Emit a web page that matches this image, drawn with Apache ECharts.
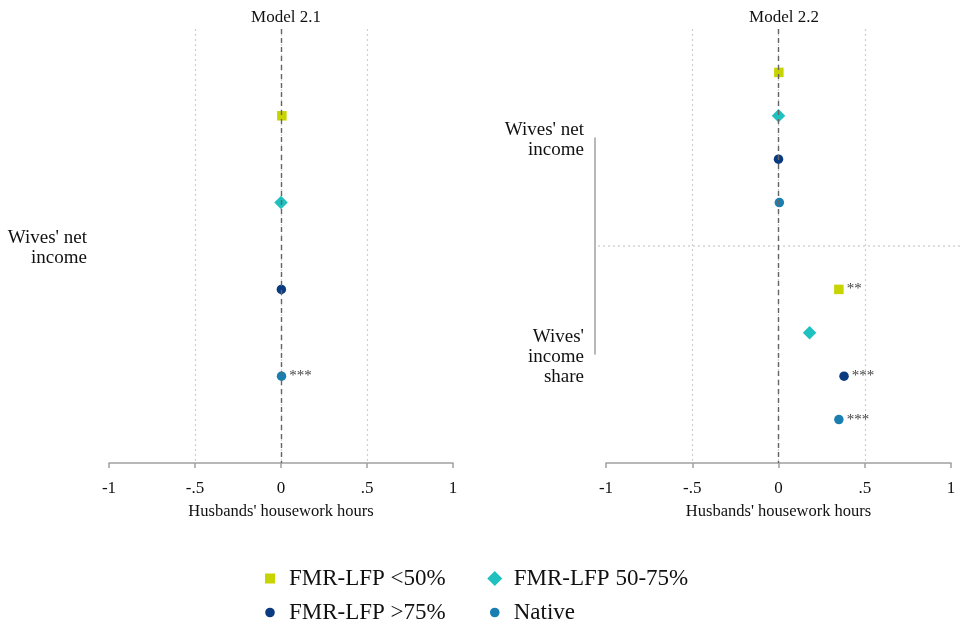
<!DOCTYPE html>
<html><head><meta charset="utf-8">
<script src="https://cdn.jsdelivr.net/npm/echarts@6/dist/echarts.min.js"></script>
<style>html,body{margin:0;padding:0;background:#fff}#c{width:960px;height:624px}</style>
</head><body><div id="c"></div>
<script>
const groups = ['FMR-LFP <50%', 'FMR-LFP 50-75%', 'FMR-LFP >75%', 'Native'];
const m21NetIncome = [0.005, 0, 0.002, 0.003];
const m21NetIncomeStars = ['', '', '', '***'];
const m22NetIncome = [0.002, 0, 0, 0.005];
const m22NetIncomeStars = ['', '', '', ''];
const m22IncomeShare = [0.35, 0.18, 0.38, 0.35];
const m22IncomeShareStars = ['**', '', '***', '***'];
const xTicks = [-1, -0.5, 0, 0.5, 1];
const xTickLabels = ['-1', '-.5', '0', '.5', '1'];
const panelTitles = ['Model 2.1', 'Model 2.2'];
const xAxisName = "Husbands' housework hours";
const rowLabelsM21 = ["Wives' net\nincome"];
const rowLabelsM22 = ["Wives' net\nincome", "Wives'\nincome\nshare"];

const FONT = "'Liberation Serif', 'Times New Roman', serif";
const colors = ['#c8d400', '#1fc0c0', '#0a3a80', '#1a7fb0'];
const symbols = ['rect', 'diamond', 'circle', 'circle'];
const sizes = [9.5, 13.5, 9.5, 9.5];
const legendIcons = [
  'path://M0,0M15,15M2.5,2.5h10v10h-10z',
  'diamond',
  'path://M0,0M15,15M2.7,7.5a4.8,4.8 0 1,0 9.6,0a4.8,4.8 0 1,0 -9.6,0z',
  'path://M0,0M15,15M2.7,7.5a4.8,4.8 0 1,0 9.6,0a4.8,4.8 0 1,0 -9.6,0z'
];

const chart = echarts.init(document.getElementById('c'));

function xAxisCfg(gi) {
  return {
    type: 'value', gridIndex: gi, min: -1, max: 1, interval: 0.5,
    name: xAxisName, nameLocation: 'middle', nameGap: 40,
    nameTextStyle: { fontFamily: FONT, fontSize: 16.5, color: '#111' },
    axisLine: { show: true, onZero: false, lineStyle: { color: '#a0a0a0', width: 1.5 } },
    axisTick: { show: true, length: 5, inside: false, lineStyle: { color: '#a0a0a0', width: 1.5 } },
    axisLabel: {
      margin: 17, fontFamily: FONT, fontSize: 17, color: '#111',
      formatter: v => { const k = xTicks.findIndex(t => Math.abs(t - v) < 1e-9); return k >= 0 ? xTickLabels[k] : ''; }
    },
    splitLine: { show: true, showMinLine: false, showMaxLine: false, lineStyle: { color: '#cfcfcf', type: [2, 3], width: 1.2 } }
  };
}
function yAxisCfg(gi, maxV) {
  return {
    type: 'value', gridIndex: gi, min: 0, max: maxV, inverse: true,
    axisLine: { show: false }, axisTick: { show: false }, splitLine: { show: false },
    axisLabel: { show: false }
  };
}

const zeroLine = {
  silent: true, symbol: 'none', label: { show: false },
  lineStyle: { color: '#666', type: [5, 4], width: 1.4 },
  data: [{ xAxis: 0 }]
};
const starLabel = {
  show: true, position: 'right', distance: 3, fontFamily: FONT, fontSize: 15, color: '#444',
  formatter: p => p.value[2]
};

const series = [];
groups.forEach((g, i) => {
  series.push({
    name: g, type: 'scatter', xAxisIndex: 0, yAxisIndex: 0,
    symbol: symbols[i], symbolSize: sizes[i], itemStyle: { color: colors[i], opacity: 1 },
    data: [[m21NetIncome[i], i + 1, m21NetIncomeStars[i]]],
    label: starLabel,
    markLine: i === 0 ? zeroLine : undefined, z: 3
  });
  series.push({
    name: g, type: 'scatter', xAxisIndex: 1, yAxisIndex: 1,
    symbol: symbols[i], symbolSize: sizes[i], itemStyle: { color: colors[i], opacity: 1 },
    data: [[m22NetIncome[i], i + 1, m22NetIncomeStars[i]], [m22IncomeShare[i], i + 6, m22IncomeShareStars[i]]],
    label: starLabel,
    markLine: i === 0 ? zeroLine : undefined, z: 3
  });
});

const legendCommon = {
  orient: 'horizontal', padding: 0, itemWidth: 15, itemHeight: 15, itemGap: 41.5,
  textStyle: { fontFamily: FONT, fontSize: 23, color: '#111', rich: { s: { width: 6.5 } } },
  formatter: name => '{s|}' + name,
  selectedMode: false
};
const legendData = groups.map((g, i) => ({ name: g, icon: legendIcons[i] }));

chart.setOption({
  animation: false,
  backgroundColor: '#fff',
  title: [
    { text: panelTitles[0], left: 281, top: 4, textAlign: 'center', textStyle: { fontFamily: FONT, fontSize: 17, fontWeight: 'normal', color: '#111' } },
    { text: panelTitles[1], left: 779, top: 4, textAlign: 'center', textStyle: { fontFamily: FONT, fontSize: 17, fontWeight: 'normal', color: '#111' } }
  ],
  grid: [
    { left: 109, right: 507, top: 29, bottom: 161 },
    { left: 606, right: 9, top: 29, bottom: 161 }
  ],
  xAxis: [xAxisCfg(0), xAxisCfg(1)],
  yAxis: [yAxisCfg(0, 5), yAxisCfg(1, 10)],
  legend: [
    Object.assign({}, legendCommon, { data: [legendData[0], legendData[1]], left: 262.5, top: 567 }),
    Object.assign({}, legendCommon, { data: [legendData[2], legendData[3]], left: 262.5, top: 601 })
  ],
  series: series
});

// row labels, separator and bracket, positioned through the axis scales
const px = (ax, v) => chart.convertToPixel(ax, v);
const gLeft0 = px({ xAxisIndex: 0 }, -1);
const gLeft1 = px({ xAxisIndex: 1 }, -1);
const labelStyle = (text) => ({ text: text, fill: '#111', font: "19px " + FONT, textAlign: 'right', textVerticalAlign: 'middle', lineHeight: 20 });
const graphics = [];
rowLabelsM21.forEach((t, k) => graphics.push({ type: 'text', x: gLeft0 - 22, y: px({ yAxisIndex: 0 }, 2.5 + 5 * k) + 2, style: labelStyle(t), silent: true }));
rowLabelsM22.forEach((t, k) => graphics.push({ type: 'text', x: gLeft1 - 22, y: px({ yAxisIndex: 1 }, 2.5 + 5 * k) + 3, style: labelStyle(t), silent: true }));
const ySep = px({ yAxisIndex: 1 }, 5);
graphics.push({ type: 'line', shape: { x1: gLeft1 - 8, y1: ySep, x2: 960, y2: ySep }, style: { stroke: '#bdbdbd', lineWidth: 1.2, lineDash: [2, 3] }, silent: true });
graphics.push({ type: 'line', shape: { x1: gLeft1 - 11, y1: px({ yAxisIndex: 1 }, 2.5), x2: gLeft1 - 11, y2: px({ yAxisIndex: 1 }, 7.5) }, style: { stroke: '#a0a0a0', lineWidth: 1.5 }, silent: true });
chart.setOption({ graphic: graphics });
</script></body></html>
